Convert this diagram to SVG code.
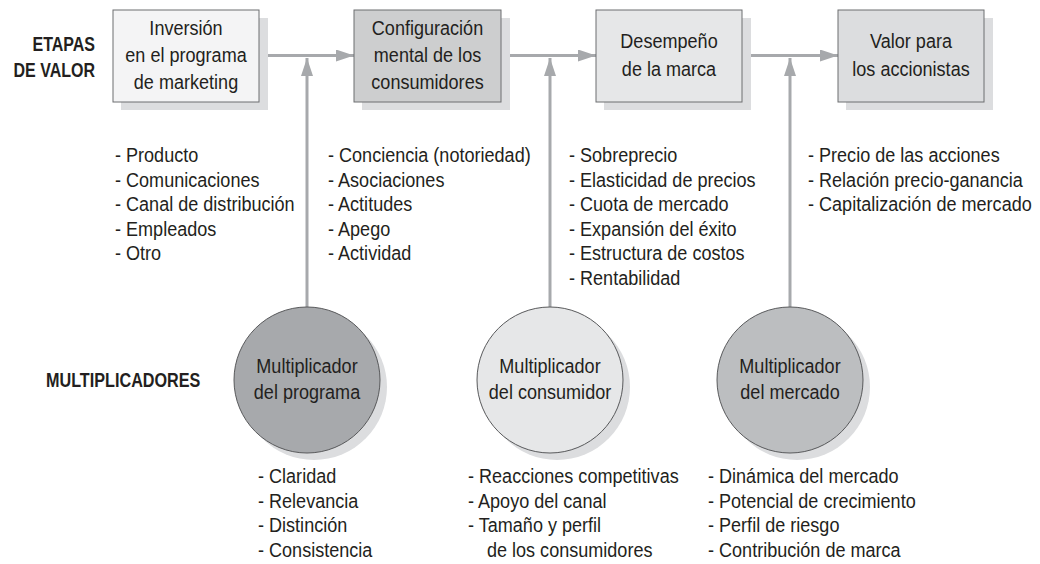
<svg xmlns="http://www.w3.org/2000/svg" width="1040" height="564" viewBox="0 0 1040 564">
<style>
text{font-family:"Liberation Sans",Arial,sans-serif;font-size:21px;fill:#231f20}
.c{text-anchor:middle}
.b{font-weight:bold;font-size:20px}
.r{text-anchor:end}
.box{stroke:#6d6e70;stroke-width:1}
.sh{fill:#dcdddf}
.ln{stroke:#a7a9ac;stroke-width:3;fill:none}
.circ{stroke:#58595b;stroke-width:1}
</style>
<defs>
<marker id="ah" viewBox="0 0 18 12" refX="18" refY="6" markerWidth="18" markerHeight="12" markerUnits="userSpaceOnUse" orient="auto">
<path d="M0,0 L18,6 L0,12 Z" fill="#a7a9ac"/>
</marker>
</defs>
<rect width="1040" height="564" fill="#fff"/>
<g id="labels">
<g transform="translate(95,0) scale(0.8,1)">
<text class="b r" x="0" y="51">ETAPAS</text>
<text class="b r" x="0" y="77">DE VALOR</text>
</g>
<g transform="translate(46,0) scale(0.81,1)">
<text class="b" x="0" y="387">MULTIPLICADORES</text>
</g>
</g>
<g id="connectors">
<line class="ln" x1="259" y1="55.5" x2="354" y2="55.5" marker-end="url(#ah)"/>
<line class="ln" x1="501" y1="55.5" x2="596" y2="55.5" marker-end="url(#ah)"/>
<line class="ln" x1="742" y1="55.5" x2="838" y2="55.5" marker-end="url(#ah)"/>
<line class="ln" x1="307" y1="308" x2="307" y2="58" marker-end="url(#ah)"/>
<line class="ln" x1="550" y1="308" x2="550" y2="58" marker-end="url(#ah)"/>
<line class="ln" x1="790" y1="308" x2="790" y2="58" marker-end="url(#ah)"/>
</g>
<g id="box1">
<rect class="sh" x="121" y="18" width="147" height="92"/>
<rect class="box" x="113" y="10" width="146" height="92" fill="#f4f4f5"/>
<g transform="translate(186,0) scale(0.86,1)">
<text class="c" x="0" y="35">Inversión</text>
<text class="c" x="0" y="62">en el programa</text>
<text class="c" x="0" y="89">de marketing</text>
</g>
</g>
<g id="box2">
<rect class="sh" x="362" y="18" width="148" height="92"/>
<rect class="box" x="354" y="10" width="147" height="92" fill="#cdcecf"/>
<g transform="translate(427.5,0) scale(0.86,1)">
<text class="c" x="0" y="35">Configuración</text>
<text class="c" x="0" y="62">mental de los</text>
<text class="c" x="0" y="89">consumidores</text>
</g>
</g>
<g id="box3">
<rect class="sh" x="604" y="18" width="147" height="92"/>
<rect class="box" x="596" y="10" width="146" height="92" fill="#e6e7e8"/>
<g transform="translate(669,0) scale(0.86,1)">
<text class="c" x="0" y="48">Desempeño</text>
<text class="c" x="0" y="76">de la marca</text>
</g>
</g>
<g id="box4">
<rect class="sh" x="846" y="18" width="147" height="92"/>
<rect class="box" x="838" y="10" width="146" height="92" fill="#dcdddf"/>
<g transform="translate(911,0) scale(0.86,1)">
<text class="c" x="0" y="48">Valor para</text>
<text class="c" x="0" y="76">los accionistas</text>
</g>
</g>
<g id="list1" transform="translate(115,0) scale(0.86,1)">
<text x="0" y="162.5">- Producto</text>
<text x="0" y="187">- Comunicaciones</text>
<text x="0" y="211.5">- Canal de distribución</text>
<text x="0" y="236">- Empleados</text>
<text x="0" y="260.5">- Otro</text>
</g>
<g id="list2" transform="translate(328,0) scale(0.86,1)">
<text x="0" y="162.5">- Conciencia (notoriedad)</text>
<text x="0" y="187">- Asociaciones</text>
<text x="0" y="211.5">- Actitudes</text>
<text x="0" y="236">- Apego</text>
<text x="0" y="260.5">- Actividad</text>
</g>
<g id="list3" transform="translate(569,0) scale(0.86,1)">
<text x="0" y="162.5">- Sobreprecio</text>
<text x="0" y="187">- Elasticidad de precios</text>
<text x="0" y="211.5">- Cuota de mercado</text>
<text x="0" y="236">- Expansión del éxito</text>
<text x="0" y="260.5">- Estructura de costos</text>
<text x="0" y="285">- Rentabilidad</text>
</g>
<g id="list4" transform="translate(808,0) scale(0.86,1)">
<text x="0" y="162.5">- Precio de las acciones</text>
<text x="0" y="187">- Relación precio-ganancia</text>
<text x="0" y="211.5">- Capitalización de mercado</text>
</g>
<g id="mult1">
<circle class="sh" cx="314" cy="387" r="73"/>
<circle class="circ" cx="307" cy="380" r="73" fill="#a7a9ac"/>
<g transform="translate(307,0) scale(0.86,1)">
<text class="c" x="0" y="373.5">Multiplicador</text>
<text class="c" x="0" y="399.5">del programa</text>
</g>
</g>
<g id="mult2">
<circle class="sh" cx="557" cy="387" r="73"/>
<circle class="circ" cx="550" cy="380" r="73" fill="#e6e7e8"/>
<g transform="translate(550,0) scale(0.86,1)">
<text class="c" x="0" y="373.5">Multiplicador</text>
<text class="c" x="0" y="399.5">del consumidor</text>
</g>
</g>
<g id="mult3">
<circle class="sh" cx="797" cy="387" r="73"/>
<circle class="circ" cx="790" cy="380" r="73" fill="#bcbec0"/>
<g transform="translate(790,0) scale(0.86,1)">
<text class="c" x="0" y="373.5">Multiplicador</text>
<text class="c" x="0" y="399.5">del mercado</text>
</g>
</g>
<g id="list5" transform="translate(258,0) scale(0.86,1)">
<text x="0" y="483.5">- Claridad</text>
<text x="0" y="508">- Relevancia</text>
<text x="0" y="532.5">- Distinción</text>
<text x="0" y="557">- Consistencia</text>
</g>
<g id="list6" transform="translate(468,0) scale(0.86,1)">
<text x="0" y="483.5">- Reacciones competitivas</text>
<text x="0" y="508">- Apoyo del canal</text>
<text x="0" y="532.5">- Tamaño y perfil</text>
<text x="22" y="557">de los consumidores</text>
</g>
<g id="list7" transform="translate(708,0) scale(0.86,1)">
<text x="0" y="483.5">- Dinámica del mercado</text>
<text x="0" y="508">- Potencial de crecimiento</text>
<text x="0" y="532.5">- Perfil de riesgo</text>
<text x="0" y="557">- Contribución de marca</text>
</g>
</svg>
